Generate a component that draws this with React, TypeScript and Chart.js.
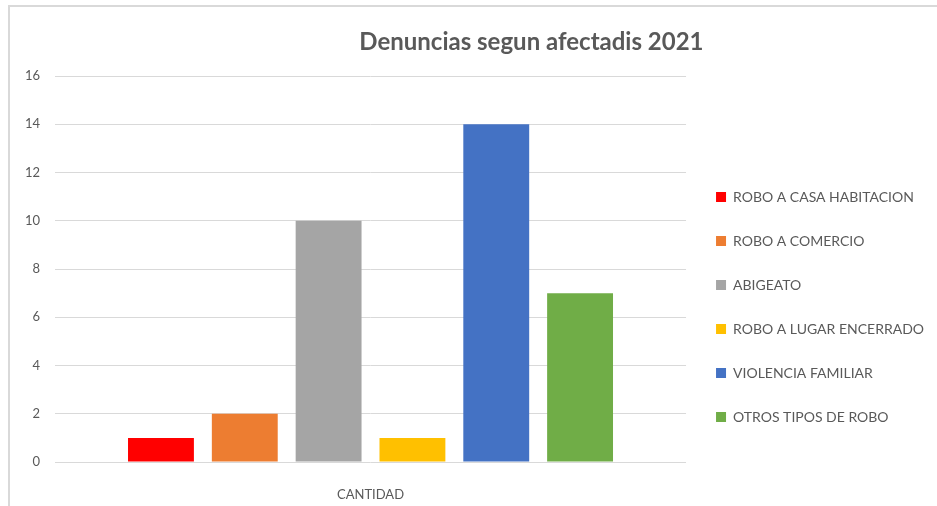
import React, { useEffect, useRef } from "react";
import { Chart, registerables } from "chart.js";

Chart.register(...registerables);

const categories = ["CANTIDAD"];
const seriesNames = [
  "ROBO A CASA HABITACION",
  "ROBO A COMERCIO",
  "ABIGEATO",
  "ROBO A LUGAR ENCERRADO",
  "VIOLENCIA FAMILIAR",
  "OTROS TIPOS DE ROBO",
];
const seriesValues = [[1], [2], [10], [1], [14], [7]];
const seriesColors = ["#FF0000", "#ED7D31", "#A5A5A5", "#FFC000", "#4472C4", "#70AD47"];
const titleText = "Denuncias segun afectadis 2021";

const FONT = "Lato, 'Open Sans', sans-serif";

const titlePlugin = {
  id: "customTitle",
  afterDraw(chart: any) {
    const { ctx, chartArea } = chart;
    ctx.save();
    ctx.font = `bold 24px ${FONT}`;
    ctx.fillStyle = "#595959";
    ctx.textAlign = "center";
    ctx.textBaseline = "middle";
    ctx.fillText(titleText, chartArea.left + 0.755 * (chartArea.right - chartArea.left), 35);
    ctx.restore();
  },
};

export default function App() {
  const ref = useRef<HTMLCanvasElement>(null);
  useEffect(() => {
    if (!ref.current) return;
    const chart = new Chart(ref.current, {
      type: "bar",
      data: {
        labels: categories,
        datasets: seriesNames.map((name, i) => ({
          label: name,
          data: seriesValues[i],
          backgroundColor: seriesColors[i],
          borderWidth: 0,
          categoryPercentage: 0.797,
          barPercentage: 0.786,
        })),
      },
      options: {
        animation: false,
        responsive: false,
        layout: { padding: { top: 69, left: 15, right: 3, bottom: 0 } },
        plugins: {
          title: { display: false },
          tooltip: { enabled: false },
          legend: {
            position: "right",
            align: "center",
            fullSize: false,
            maxWidth: 253,
            title: {
              display: true,
              text: " ",
              padding: { top: 66, bottom: 0 },
              font: { size: 10, lineHeight: 1 },
            },
            labels: {
              boxWidth: 10,
              boxHeight: 10,
              padding: 30,
              color: "#595959",
              font: { family: FONT, size: 14 },
            },
          },
        },
        scales: {
          x: {
            grid: { display: false },
            border: { display: false },
            ticks: { color: "#595959", font: { family: FONT, size: 13 }, padding: 17 },
            afterFit(scale: any) {
              scale.height = 44;
            },
          },
          y: {
            min: 0,
            max: 16,
            ticks: { stepSize: 2, color: "#595959", font: { family: FONT, size: 13 }, padding: 15 },
            grid: { color: "#D9D9D9", lineWidth: 1, drawTicks: false },
            border: { display: false },
            afterFit(scale: any) {
              scale.width = 30;
            },
          },
        },
      },
      plugins: [titlePlugin],
    });
    return () => chart.destroy();
  }, []);

  return (
    <div
      style={{
        position: "absolute",
        left: 8,
        top: 5,
        width: 929,
        height: 501,
        boxSizing: "border-box",
        borderLeft: "2px solid #D9D9D9",
        borderTop: "2px solid #D9D9D9",
        background: "#fff",
      }}
    >
      <canvas ref={ref} width={927} height={499} style={{ display: "block" }} />
    </div>
  );
}
